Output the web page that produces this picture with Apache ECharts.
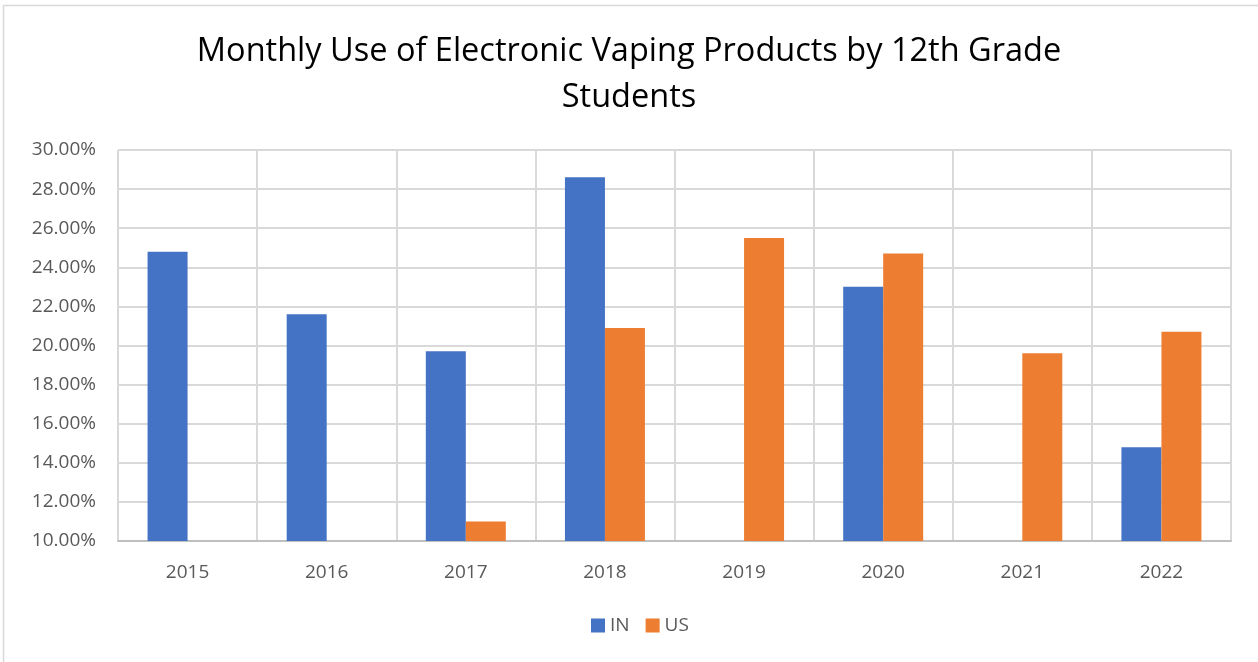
<!DOCTYPE html>
<html>
<head>
<meta charset="utf-8">
<script src="https://cdn.jsdelivr.net/npm/echarts@6/dist/echarts.min.js"></script>
<style>
  html, body { margin: 0; padding: 0; background: #ffffff; }
  #chart { width: 1258px; height: 662px; }
</style>
</head>
<body>
<div id="chart"></div>
<script>
// Survey years on the category axis
const years = ['2015', '2016', '2017', '2018', '2019', '2020', '2021', '2022'];
// Past-30-day vaping among 12th graders, in percent (null = no survey value)
const inValues = [24.8, 21.6, 19.7, 28.6, null, 23.0, null, 14.8];
const usValues = [null, null, 11.0, 20.9, 25.5, 24.7, 19.6, 20.7];
// Value axis range and step, in percent
const yMin = 10;
const yMax = 30;
const yStep = 2;

const font = '"Open Sans", "Noto Sans", sans-serif';
const chart = echarts.init(document.getElementById('chart'), null, { renderer: 'canvas' });

chart.setOption({
  animation: false,
  backgroundColor: '#ffffff',
  graphic: [{
    type: 'rect',
    shape: { x: 3.5, y: 5.5, width: 1300, height: 700 },
    style: { fill: 'none', stroke: '#d9d9d9', lineWidth: 1.5 },
    silent: true
  }],
  title: {
    text: 'Monthly Use of Electronic Vaping Products by 12th Grade\nStudents',
    left: 'center',
    top: 24,
    textStyle: {
      fontFamily: font,
      fontSize: 32.5,
      fontWeight: 'normal',
      color: '#000000',
      lineHeight: 46
    }
  },
  legend: {
    top: 611,
    left: 586,
    icon: 'rect',
    itemWidth: 14,
    itemHeight: 14,
    itemGap: 16,
    textStyle: { fontFamily: font, fontSize: 19, color: '#595959', padding: [0, 0, 0, 0] },
    data: ['IN', 'US']
  },
  grid: { left: 118, right: 27, top: 150, bottom: 121 },
  xAxis: {
    type: 'category',
    data: years,
    axisLine: { show: true, lineStyle: { color: '#bfbfbf', width: 2 } },
    axisTick: { show: false },
    axisLabel: { fontFamily: font, fontSize: 19, color: '#595959', margin: 22 },
    splitLine: { show: true, lineStyle: { color: '#d9d9d9', width: 2 } }
  },
  yAxis: {
    type: 'value',
    min: yMin,
    max: yMax,
    interval: yStep,
    axisLine: { show: false },
    axisTick: { show: false },
    axisLabel: {
      fontFamily: font,
      fontSize: 19,
      color: '#595959',
      margin: 22,
      formatter: v => v.toFixed(2) + '%'
    },
    splitLine: { show: true, lineStyle: { color: '#d9d9d9', width: 2 } }
  },
  series: [
    {
      name: 'IN',
      type: 'bar',
      data: inValues,
      barWidth: 40,
      barGap: '0%',
      itemStyle: { color: '#4472C4' }
    },
    {
      name: 'US',
      type: 'bar',
      data: usValues,
      barWidth: 40,
      barGap: '0%',
      itemStyle: { color: '#ED7D31' }
    }
  ]
});
</script>
</body>
</html>
